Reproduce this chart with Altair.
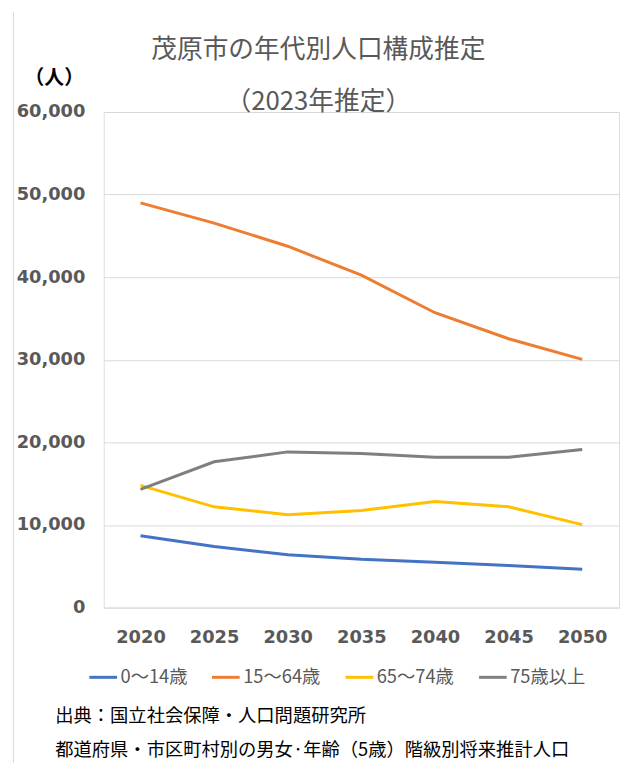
import altair as alt
import pandas as pd

# ---- data ----
years = ["2020", "2025", "2030", "2035", "2040", "2045", "2050"]
groups = ["0〜14歳", "15〜64歳", "65〜74歳", "75歳以上"]
pop_0_14 = [8700, 7400, 6400, 5850, 5500, 5100, 4650]
pop_15_64 = [49000, 46550, 43750, 40250, 35700, 32550, 30050]
pop_65_74 = [14800, 12200, 11250, 11750, 12850, 12200, 10050]
pop_75_up = [14300, 17650, 18850, 18650, 18200, 18200, 19150]
y_ticks = [0, 10000, 20000, 30000, 40000, 50000, 60000]
title_main = "茂原市の年代別人口構成推定"
title_sub = "（2023年推定）"
unit_label = "（人）"
source_line1 = "出典：国立社会保障・人口問題研究所"
source_line2 = "都道府県・市区町村別の男女·年齢（5歳）階級別将来推計人口"

colors = ["#4472C4", "#ED7D31", "#FFC000", "#7F7F7F"]

series = [pop_0_14, pop_15_64, pop_65_74, pop_75_up]
rows = []
for g, vals in zip(groups, series):
    for y, v in zip(years, vals):
        rows.append({"year": y, "group": g, "value": v})
df = pd.DataFrame(rows)

JP = "Noto Sans CJK JP"
NUM = "DejaVu Sans"
GRAY_TXT = "#595959"

lines = alt.Chart(df).mark_line(strokeWidth=3).encode(
    x=alt.X("year:O", sort=years, scale=alt.Scale(type="point", padding=0.5),
            axis=alt.Axis(title=None, labelAngle=0, ticks=False, domain=False, grid=False,
                          labelFont=NUM, labelFontWeight="bold", labelFontSize=18,
                          labelColor=GRAY_TXT, labelPadding=21)),
    y=alt.Y("value:Q", scale=alt.Scale(domain=[0, 60000], nice=False),
            axis=alt.Axis(title=None, values=y_ticks, format=",d", ticks=False, domain=False,
                          grid=True, gridColor="#D9D9D9", gridWidth=1,
                          labelFont=NUM, labelFontWeight="bold", labelFontSize=18,
                          labelColor=GRAY_TXT, labelPadding=19)),
    color=alt.Color("group:N", sort=groups,
                    scale=alt.Scale(domain=groups, range=colors),
                    legend=alt.Legend(title=None, orient="none", legendX=-16, legendY=556,
                                      direction="horizontal", symbolType="stroke",
                                      symbolSize=784, symbolStrokeWidth=3,
                                      labelFont=JP, labelFontSize=18.5, labelColor=GRAY_TXT,
                                      labelOffset=2, columnPadding=18)),
    detail="group:N",
)

one = pd.DataFrame({"k": [0]})

def txt(text, x, y, size, color, align="center", weight="normal", font=JP):
    return alt.Chart(one).mark_text(
        text=text, font=font, fontSize=size, color=color, align=align,
        baseline="middle", fontWeight=weight
    ).encode(x=alt.value(x), y=alt.value(y))

t1 = txt(title_main, 217, -63, 26, GRAY_TXT)
t2 = txt(title_sub, 217, -10, 26, GRAY_TXT)
unit = txt(unit_label, -50, -34, 20, "#000000", weight="bold")
s1 = txt(source_line1, -49, 611, 18.5, "#000000", align="left")
s2 = txt(source_line2, -49, 645, 18.5, "#000000", align="left")

border = alt.Chart(one).mark_rule(color="#D9D9D9", strokeWidth=1).encode(
    x=alt.value(-91.25), y=alt.value(-101), y2=alt.value(658)
)

chart = alt.layer(border, lines, t1, t2, unit, s1, s2).properties(
    width=521, height=501,
    autosize=alt.AutoSizeParams(type="none"),
    padding={"left": 96.75, "top": 101, "right": 3, "bottom": 157},
).configure_view(stroke=None).configure(background="white")

chart.save("out.html", embed_options={"renderer": "svg", "actions": False})
